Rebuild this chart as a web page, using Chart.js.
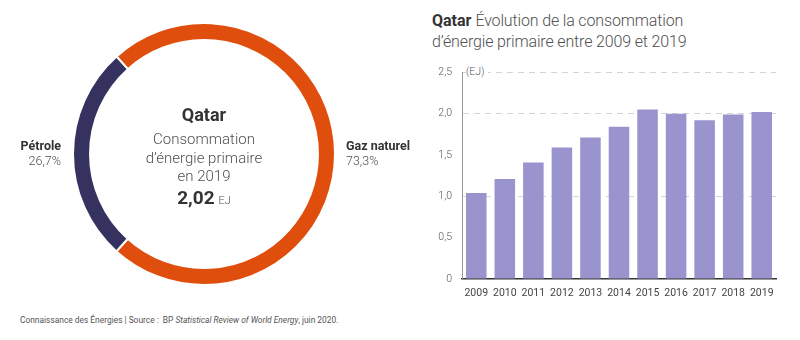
<!DOCTYPE html>
<html lang="fr">
<head>
<meta charset="utf-8">
<script src="https://cdn.jsdelivr.net/npm/chart.js@4"></script>
<style>
  body { margin: 0; width: 800px; height: 340px; background: #fff; position: relative; overflow: hidden; font-family: Roboto, "Noto Sans", sans-serif; color: #333; }
  .abs { position: absolute; white-space: nowrap; }
  #donutBox { position: absolute; left: 72px; top: 22px; width: 264px; height: 264px; }
  #barBox { position: absolute; left: 420px; top: 56px; width: 380px; height: 245px; }
  .center { left: 104px; width: 200px; text-align: center; }
  .light { font-weight: 300; color: #505050; }
  .bold { font-weight: 700; color: #333; }
</style>
</head>
<body>
<div id="donutBox"><canvas id="donutChart"></canvas></div>
<div id="barBox"><canvas id="barChart"></canvas></div>

<div class="abs center bold" style="top:104px;font-size:18px;">Qatar</div>
<div class="abs center light" style="top:130px;font-size:15px;line-height:18.5px;">Consommation<br>d’énergie primaire<br>en 2019</div>
<div class="abs center" style="top:186px;"><span class="bold" style="font-size:19px;">2,02</span> <span class="light" style="font-size:11px;">EJ</span></div>

<div class="abs" style="left:0;width:61px;text-align:right;top:138px;font-size:12.5px;line-height:15px;"><span class="bold">Pétrole</span><br><span class="light">26,7%</span></div>
<div class="abs" style="left:346px;top:138px;font-size:12.5px;line-height:15px;"><span class="bold">Gaz naturel</span><br><span class="light">73,3%</span></div>

<div class="abs" style="left:432px;top:10px;font-size:16px;line-height:21px;"><span class="bold">Qatar</span> <span class="light" style="letter-spacing:-0.15px;">Évolution de la consommation<br>d’énergie primaire entre 2009 et 2019</span></div>
<div class="abs light" style="left:466px;top:65px;font-size:10.5px;background:#fff;padding-right:3px;color:#555;">(EJ)</div>

<div class="abs" style="left:20px;top:315px;font-size:8.4px;color:#555;">Connaissance des Énergies | Source : &nbsp;BP <i>Statistical Review of World Energy</i>, juin 2020.</div>

<script>
// mix 2019
const sources = ["Gaz naturel", "Pétrole"];
const shares = [73.3, 26.7];
const sourceColors = ["#e04e0e", "#35325f"];

// consommation annuelle (EJ)
const years = ["2009", "2010", "2011", "2012", "2013", "2014", "2015", "2016", "2017", "2018", "2019"];
const consumption = [1.04, 1.21, 1.41, 1.59, 1.71, 1.84, 2.05, 2.0, 1.92, 1.99, 2.02];
const yTicks = [0, 0.5, 1.0, 1.5, 2.0, 2.5];
const yTickLabels = ["0", "0,5", "1,0", "1,5", "2,0", "2,5"];
const gridValues = [1.0, 2.0, 2.5];

Chart.defaults.font.family = "Roboto, 'Noto Sans', sans-serif";
Chart.defaults.animation = false;

new Chart(document.getElementById("donutChart"), {
  type: "doughnut",
  data: {
    labels: sources,
    datasets: [{
      data: shares,
      backgroundColor: sourceColors,
      borderColor: "#fff",
      borderWidth: 2,
    }],
  },
  options: {
    responsive: true,
    maintainAspectRatio: false,
    cutout: "87%",
    rotation: -41.9,
    plugins: { legend: { display: false }, tooltip: { enabled: false } },
  },
});

new Chart(document.getElementById("barChart"), {
  type: "bar",
  data: {
    labels: years,
    datasets: [{
      data: consumption,
      backgroundColor: "#9994ce",
      barPercentage: 0.72,
      categoryPercentage: 1,
    }],
  },
  options: {
    responsive: true,
    maintainAspectRatio: false,
    layout: { padding: { top: 15, right: 24, left: 0, bottom: 0 } },
    plugins: { legend: { display: false }, tooltip: { enabled: false } },
    scales: {
      x: {
        grid: { display: false, drawTicks: false },
        border: { color: "#333", width: 1.5 },
        ticks: { color: "#444", font: { size: 10.5 }, padding: 8, maxRotation: 0 },
        afterFit: (scale) => { scale.height = 22; },
      },
      y: {
        min: 0,
        max: 2.5,
        afterBuildTicks: (scale) => { scale.ticks = yTicks.map((v) => ({ value: v })); },
        grid: {
          drawTicks: false,
          color: (ctx) => (gridValues.includes(ctx.tick.value) ? "#d4d4d4" : "rgba(0,0,0,0)"),
        },
        border: { color: "#999", width: 1, dash: [6, 5] },
        ticks: {
          color: "#555",
          font: { size: 10.5, weight: 300 },
          padding: 10,
          callback: (value) => yTickLabels[yTicks.indexOf(value)],
        },
        afterFit: (scale) => { scale.width = 42; },
      },
    },
  },
});
</script>
</body>
</html>
